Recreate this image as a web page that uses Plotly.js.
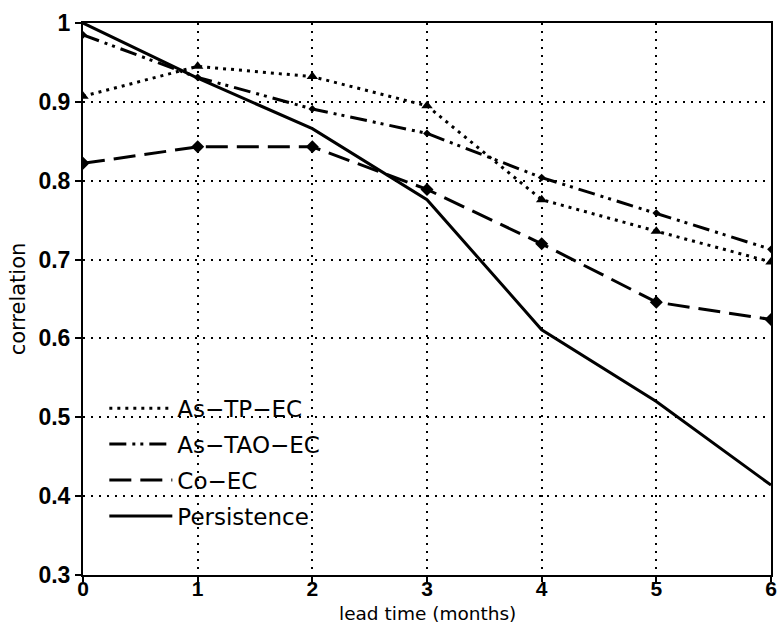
<!DOCTYPE html>
<html>
<head>
<meta charset="utf-8">
<script src="https://cdn.plot.ly/plotly-3.0.1.min.js"></script>
<style>html,body{margin:0;padding:0;background:#fff;}#chart{width:778px;height:625px;}</style>
</head>
<body>
<div id="chart"></div>
<script>
var leadTime = [0, 1, 2, 3, 4, 5, 6];
var seriesNames = ["As\u2212TP\u2212EC", "As\u2212TAO\u2212EC", "Co\u2212EC", "Persistence"];
var asTpEc = [0.907, 0.945, 0.932, 0.895, 0.776, 0.736, 0.697];
var asTaoEc = [0.985, 0.931, 0.891, 0.860, 0.804, 0.759, 0.713];
var coEc = [0.822, 0.843, 0.843, 0.789, 0.720, 0.646, 0.624];
var persistence = [1.0, 0.930, 0.866, 0.776, 0.611, 0.520, 0.414];
var xTicks = [0, 1, 2, 3, 4, 5, 6];
var yTicks = [0.3, 0.4, 0.5, 0.6, 0.7, 0.8, 0.9, 1];
var yTickText = ["0.3", "0.4", "0.5", "0.6", "0.7", "0.8", "0.9", "1"];
var xTitle = "lead time (months)";
var yTitle = "correlation";

var lw = 3;
var traces = [
  {x: leadTime, y: asTpEc, name: seriesNames[0], mode: "lines", legendgroup: "a",
   line: {color: "#000", width: lw, dash: "3px,5px"}},
  {x: leadTime, y: asTaoEc, name: seriesNames[1], mode: "lines", legendgroup: "b",
   line: {color: "#000", width: lw, dash: "17px,6px,3px,5px,3px,6px"}},
  {x: leadTime, y: coEc, name: seriesNames[2], mode: "lines", legendgroup: "c",
   line: {color: "#000", width: lw, dash: "22px,9px"}},
  {x: leadTime, y: persistence, name: seriesNames[3], mode: "lines", legendgroup: "d",
   line: {color: "#000", width: lw}},
  {x: leadTime, y: asTpEc, mode: "markers", showlegend: false, hoverinfo: "skip",
   marker: {symbol: "triangle-up", size: 10, color: "#000"}},
  {x: leadTime, y: asTaoEc, mode: "markers", showlegend: false, hoverinfo: "skip",
   marker: {symbol: "diamond", size: 6, color: "#000"}},
  {x: leadTime, y: coEc, mode: "markers", showlegend: false, hoverinfo: "skip",
   marker: {symbol: "diamond", size: 10, color: "#000"}}
];

var gridDash = "2px,6px";
var layout = {
  width: 778, height: 625,
  margin: {l: 83, r: 7, t: 23, b: 50},
  paper_bgcolor: "#fff", plot_bgcolor: "#fff",
  showlegend: true,
  legend: {
    x: 0.031, y: 0.341, xanchor: "left", yanchor: "top",
    bgcolor: "rgba(0,0,0,0)", borderwidth: 0,
    font: {family: "DejaVu Sans", size: 23, color: "#000"},
    itemwidth: 63, traceorder: "grouped", tracegroupgap: 3
  },
  annotations: [
    {text: xTitle, xref: "paper", yref: "paper", x: 0.5, y: -0.069,
     xanchor: "center", yanchor: "middle", showarrow: false,
     font: {family: "DejaVu Sans", size: 18.5, color: "#000"}}
  ],
  xaxis: {
    range: [0, 6], tickvals: xTicks, ticktext: xTicks.map(String),
    showgrid: true, gridcolor: "#000", gridwidth: 2, griddash: gridDash,
    zeroline: false, showline: true, linecolor: "#000", linewidth: 2, mirror: true,
    ticks: "outside", ticklen: 5, tickwidth: 2, tickcolor: "#000", ticklabelstandoff: -11,
    tickfont: {family: "Liberation Sans", size: 21, color: "#000", weight: "bold"},
    automargin: false
  },
  yaxis: {
    range: [0.3, 1], tickvals: yTicks, ticktext: yTickText,
    showgrid: true, gridcolor: "#000", gridwidth: 2, griddash: gridDash,
    zeroline: false, showline: true, linecolor: "#000", linewidth: 2, mirror: true,
    ticks: "outside", ticklen: 6, tickwidth: 2, tickcolor: "#000",
    tickfont: {family: "Liberation Sans", size: 23, color: "#000", weight: "bold"},
    title: {text: yTitle, font: {family: "DejaVu Sans", size: 21, color: "#000"}, standoff: 7},
    automargin: false
  }
};

Plotly.newPlot("chart", traces, layout, {displayModeBar: false, staticPlot: true});
</script>
</body>
</html>
